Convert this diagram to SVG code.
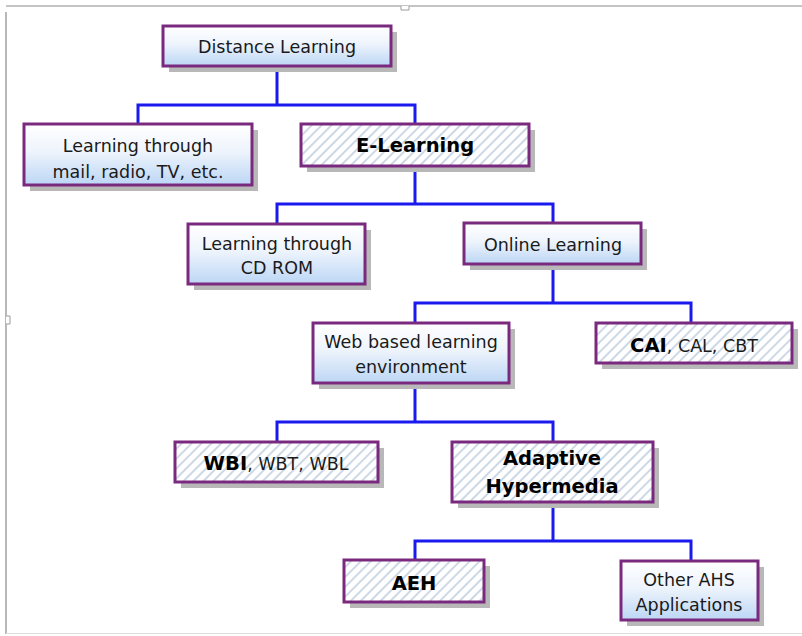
<svg xmlns="http://www.w3.org/2000/svg" width="802" height="636" viewBox="0 0 802 636">
<defs>
<linearGradient id="grad" x1="0" y1="0" x2="0" y2="1">
<stop offset="0" stop-color="#ffffff"/>
<stop offset="0.45" stop-color="#eef4fc"/>
<stop offset="1" stop-color="#bcd6f5"/>
</linearGradient>
<pattern id="hatch" width="7" height="7" patternUnits="userSpaceOnUse" patternTransform="rotate(45)">
<rect width="7" height="7" fill="#ffffff"/>
<rect x="0" y="0" width="2" height="7" fill="#cdd8e6"/>
</pattern>
</defs>
<style>
.sh{fill:#b8b8b8}
.g{fill:url(#grad);stroke:#7a2a7e;stroke-width:3}
.h{fill:url(#hatch);stroke:#7a2a7e;stroke-width:3}
.t{font-family:"DejaVu Sans",Verdana,sans-serif;font-size:17.5px;fill:#1a1a1a;text-anchor:middle}
.b{font-weight:bold;font-size:19.5px;fill:#000}
.c{fill:none;stroke:#1a1aee;stroke-width:3}
.f{fill:none;stroke:#8a8a8a;stroke-width:1.2}
</style>
<rect width="802" height="636" fill="#ffffff"/>
<g id="frame">
<path class="f" d="M6,12 V634 M6,6 H802"/>
<path d="M6,633.5 H802" stroke="#dddddd" stroke-width="1"/>
<path d="M401,6 v4 h8 v-4" fill="#fff" stroke="#9a9a9a" stroke-width="1"/>
<path d="M6,316 h4 v8 h-4" fill="#fff" stroke="#9a9a9a" stroke-width="1"/>
</g>
<g id="connectors">
<path class="c" d="M277,66 V105 M138,124 V105 H415 V124"/>
<path class="c" d="M415,166 V204 M277,224 V204 H553 V223"/>
<path class="c" d="M553,264 V303 M415,323 V303 H691 V323"/>
<path class="c" d="M415,383 V422 M277,442 V422 H553 V442"/>
<path class="c" d="M553,502 V541 M415,560 V541 H691 V561"/>
</g>
<g id="n-distance">
<rect class="sh" x="169" y="32" width="228" height="40"/>
<rect class="g" x="163" y="26" width="228" height="40"/>
<text class="t" x="277" y="53">Distance Learning</text>
</g>
<g id="n-mail">
<rect class="sh" x="30" y="130" width="228" height="61"/>
<rect class="g" x="24" y="124" width="228" height="61"/>
<text class="t" x="138" y="152">Learning through</text>
<text class="t" x="138" y="178">mail, radio, TV, etc.</text>
</g>
<g id="n-elearning">
<rect class="sh" x="307" y="130" width="228" height="42"/>
<rect class="h" x="301" y="124" width="228" height="42"/>
<text class="t b" x="415" y="152">E-Learning</text>
</g>
<g id="n-cdrom">
<rect class="sh" x="194" y="230" width="177" height="60"/>
<rect class="g" x="188" y="224" width="177" height="60"/>
<text class="t" x="277" y="250">Learning through</text>
<text class="t" x="277" y="274">CD ROM</text>
</g>
<g id="n-online">
<rect class="sh" x="470" y="229" width="177" height="41"/>
<rect class="g" x="464" y="223" width="177" height="41"/>
<text class="t" x="553" y="251">Online Learning</text>
</g>
<g id="n-web">
<rect class="sh" x="319" y="329" width="196" height="60"/>
<rect class="g" x="313" y="323" width="196" height="60"/>
<text class="t" x="411" y="348">Web based learning</text>
<text class="t" x="411" y="373">environment</text>
</g>
<g id="n-cai">
<rect class="sh" x="602" y="329" width="196" height="40"/>
<rect class="h" x="596" y="323" width="196" height="40"/>
<text class="t" x="694" y="352"><tspan class="b">CAI</tspan>, CAL, CBT</text>
</g>
<g id="n-wbi">
<rect class="sh" x="181" y="448" width="203" height="40"/>
<rect class="h" x="175" y="442" width="203" height="40"/>
<text class="t" x="276" y="470"><tspan class="b">WBI</tspan>, WBT, WBL</text>
</g>
<g id="n-adaptive">
<rect class="sh" x="458" y="448" width="201" height="60"/>
<rect class="h" x="452" y="442" width="201" height="60"/>
<text class="t b" x="552" y="465">Adaptive</text>
<text class="t b" x="552" y="493">Hypermedia</text>
</g>
<g id="n-aeh">
<rect class="sh" x="350" y="566" width="140" height="42"/>
<rect class="h" x="344" y="560" width="140" height="42"/>
<text class="t b" x="414" y="590">AEH</text>
</g>
<g id="n-other">
<rect class="sh" x="627" y="567" width="137" height="59"/>
<rect class="g" x="621" y="561" width="137" height="59"/>
<text class="t" x="689" y="586">Other AHS</text>
<text class="t" x="689" y="611">Applications</text>
</g>
</svg>
